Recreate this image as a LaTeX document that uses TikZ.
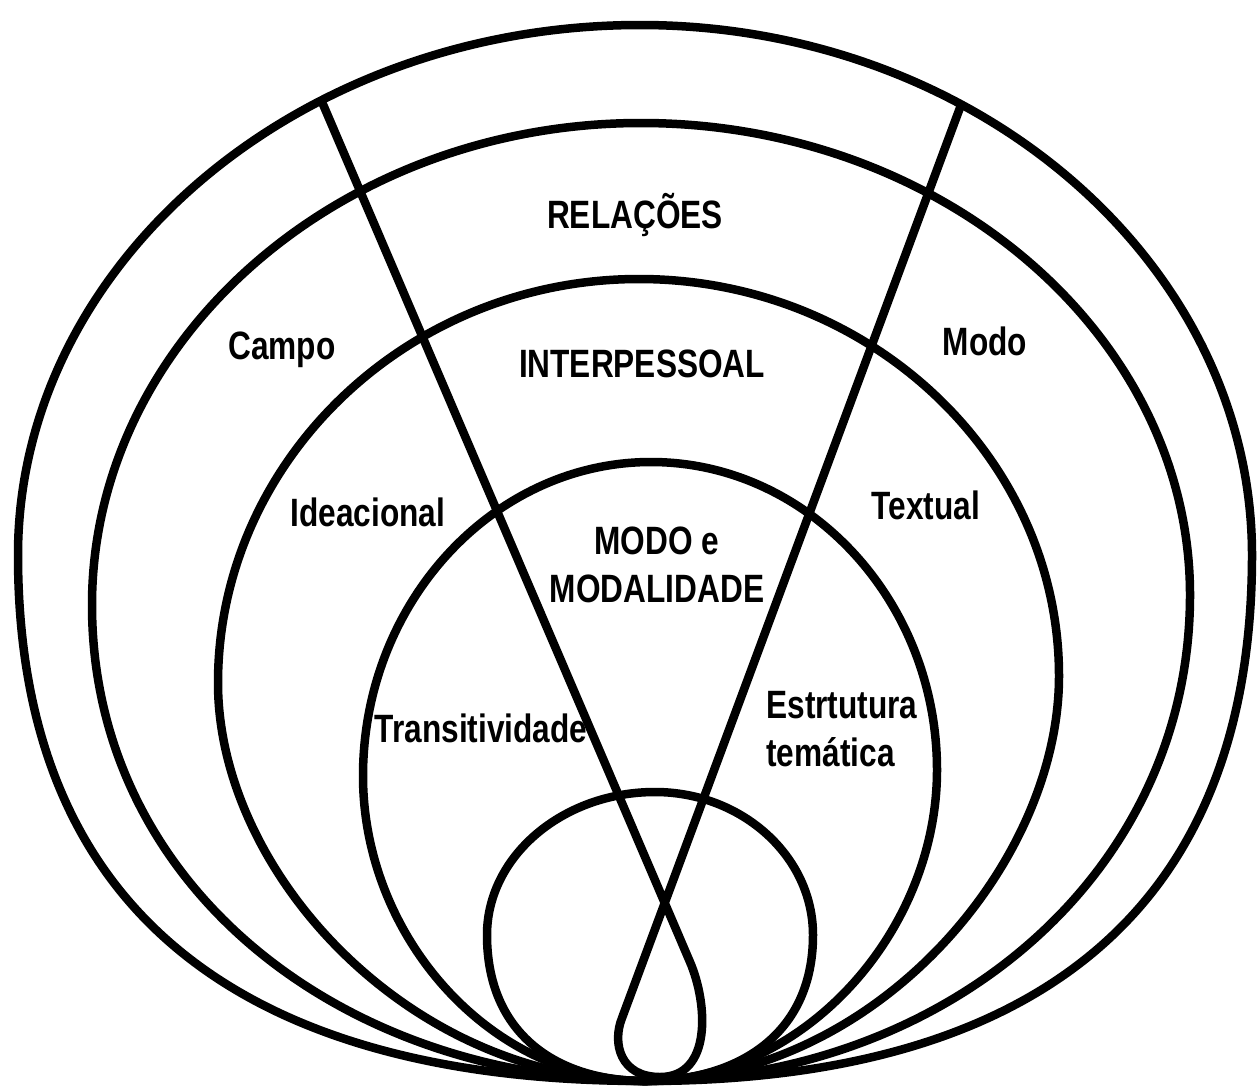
\documentclass[tikz,border=0pt]{standalone}
\usepackage{fontspec}
\setmainfont{Liberation Sans}[FakeStretch=0.8]
\usetikzlibrary{positioning}

\begin{document}
\begin{tikzpicture}[x=0.02cm, y=-0.02cm,
    ring/.style={line width=0.17cm, line join=round, line cap=round},
    area/.style={font=\bfseries\fontsize{22.5}{27.3}\selectfont, inner sep=0pt}]

    \useasboundingbox (0,0) rectangle (1257,1089);

    \coordinate (base) at (645,1081);

    % nested ovals, all meeting at the bottom
    \foreach \lx/\ly/\tx/\ty/\rx/\ry/\kl in {18/555/640/25/1252/555/400,
        92/605/641/123/1190/595/280, 218/683/639/279/1059/676/190,
        363/776/651/462/937/770/160, 487/935/655/792/813/935/100}
      \draw [ring] (base)
        .. controls ({645-0.55*(645-\lx)},1081) and (\lx,{\ly+\kl}) .. (\lx,\ly)
        .. controls (\lx,{\ly-0.55*(\ly-\ty)}) and ({\tx-0.55*(\tx-\lx)},\ty) .. (\tx,\ty)
        .. controls ({\tx+0.55*(\rx-\tx)},\ty) and (\rx,{\ry-0.55*(\ry-\ty)}) .. (\rx,\ry)
        .. controls (\rx,{\ry+\kl}) and ({645+0.55*(\rx-645)},1081) .. cycle;

    % the two crossing strokes with the loop at the bottom
    \coordinate (left-top) at (322,102);
    \coordinate (right-top) at (961,105);
    \draw [ring] (left-top) -- (690,962)
      .. controls (708,1004) and (712,1077) .. (660,1077)
      .. controls (620,1077) and (612,1043) .. (622,1018) -- (right-top);

    \node [area, anchor=base] (relacoes) at (635,228) {RELAÇÕES};
    \node [area, anchor=base] (interpessoal) at (642,377) {INTERPESSOAL};
    \node [area, anchor=base] (campo) at (282,359) {Campo};
    \node [area, anchor=base] (modo) at (985,355) {Modo};
    \node [area, anchor=base] (ideacional) at (368,526) {Ideacional};
    \node [area, anchor=base] (textual) at (926,519) {Textual};
    \node [area, anchor=north, align=center] (modalidade) at (657,527) {MODO e\\MODALIDADE};
    \node [area, anchor=base] (transitividade) at (481,742) {Transitividade};
    \node [area, anchor=north west, align=left] (estrutura) at (766,691) {Estrtutura\\temática};

\end{tikzpicture}
\end{document}
